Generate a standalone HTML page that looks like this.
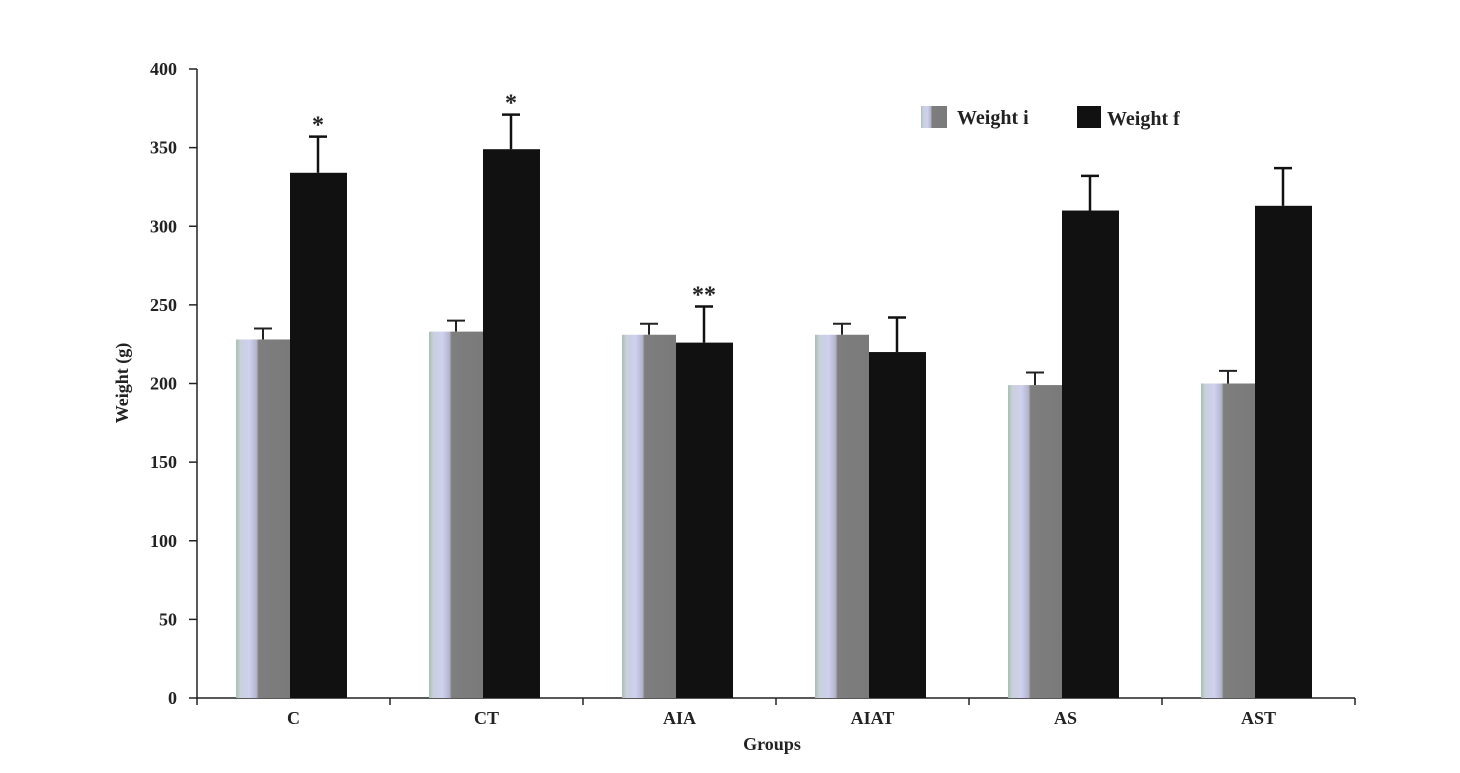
<!DOCTYPE html>
<html><head><meta charset="utf-8"><style>
body{margin:0;background:#fff;}
svg text{font-family:"Liberation Serif",serif;fill:#222;}
</style></head><body>
<svg id="chart" width="1460" height="768" xmlns="http://www.w3.org/2000/svg">
<defs>
<linearGradient id="gi" x1="0" x2="1" y1="0" y2="0">
<stop offset="0" stop-color="#a9bfae"/>
<stop offset="0.08" stop-color="#c8d0dc"/>
<stop offset="0.25" stop-color="#cfd0ee"/>
<stop offset="0.38" stop-color="#b3b4cc"/>
<stop offset="0.42" stop-color="#7e7e7e"/>
<stop offset="1" stop-color="#7a7a7a"/>
</linearGradient>
</defs>
<g id="plot"></g>
</svg>
<script>
const categories=["C","CT","AIA","AIAT","AS","AST"];
const weightI=[228,233,231,231,199,200];
const weightIErr=[7,7,7,7,8,8];
const weightF=[334,349,226,220,310,313];
const weightFErr=[23,22,23,22,22,24];
const sigLabels=["*","*","**","","",""];
const yTicks=[0,50,100,150,200,250,300,350,400];

const NS="http://www.w3.org/2000/svg";
const g=document.getElementById('plot');
const x0=197,x1=1355,yBase=698,yTop=69,yMax=400;
const gw=(x1-x0)/categories.length;
const y=v=>yBase-(v/yMax)*(yBase-yTop);
function mk(tag,attrs,parent){const e=document.createElementNS(NS,tag);for(const k in attrs)e.setAttribute(k,attrs[k]);(parent||g).appendChild(e);return e;}

// axes
let ax=mk('line',{x1:x0,y1:yTop,x2:x0,y2:yBase,stroke:'#222','stroke-width':1.5});


let axx=mk('line',{x1:x0,y1:yBase,x2:x1,y2:yBase,stroke:'#222','stroke-width':1.5});


yTicks.forEach(t=>{
  mk('line',{x1:x0-8,y1:y(t),x2:x0,y2:y(t),stroke:'#222','stroke-width':1.5});
  const tx=mk('text',{x:x0-20,y:y(t)+6,'text-anchor':'end','font-size':18,'font-weight':'bold'});
  tx.textContent=t;
  
  
});
for(let i=0;i<=categories.length;i++){
  mk('line',{x1:x0+i*gw,y1:yBase,x2:x0+i*gw,y2:yBase+7,stroke:'#222','stroke-width':1.5});
}
categories.forEach((c,i)=>{
  const gx=x0+i*gw;
  const bi=gx+39,bw=54,bf=gx+93,bfw=57;
  // error bars
  const ei=mk('g',{});
  
  
  mk('line',{x1:bi+27,y1:y(weightI[i]),x2:bi+27,y2:y(weightI[i]+weightIErr[i]),stroke:'#222','stroke-width':2},ei);
  mk('line',{x1:bi+18,y1:y(weightI[i]+weightIErr[i]),x2:bi+36,y2:y(weightI[i]+weightIErr[i]),stroke:'#222','stroke-width':2},ei);
  const r1=mk('rect',{x:bi,y:y(weightI[i]),width:bw,height:yBase-y(weightI[i]),fill:'url(#gi)'});
  
  
  const ef=mk('g',{});
  
  
  mk('line',{x1:bf+28,y1:y(weightF[i]),x2:bf+28,y2:y(weightF[i]+weightFErr[i]),stroke:'#111','stroke-width':2.5},ef);
  mk('line',{x1:bf+19,y1:y(weightF[i]+weightFErr[i]),x2:bf+37,y2:y(weightF[i]+weightFErr[i]),stroke:'#111','stroke-width':2.5},ef);
  const r2=mk('rect',{x:bf,y:y(weightF[i]),width:bfw,height:yBase-y(weightF[i]),fill:'#111'});
  
  
  if(sigLabels[i]){
    const s=mk('text',{x:bf+28,y:y(weightF[i]+weightFErr[i])-4,'text-anchor':'middle','font-size':24,'font-weight':'bold'});
    s.textContent=sigLabels[i];
    
    
  }
  const lb=mk('text',{x:gx+gw/2,y:724,'text-anchor':'middle','font-size':18,'font-weight':'bold'});
  lb.textContent=c;
  
  
});
const xt=mk('text',{x:772,y:750,'text-anchor':'middle','font-size':18,'font-weight':'bold'});
xt.textContent='Groups';


const yt=mk('text',{x:0,y:0,'text-anchor':'middle','font-size':18,'font-weight':'bold',transform:'translate(128,383) rotate(-90)'});
yt.textContent='Weight (g)';


// legend
const lg=mk('g',{});


mk('rect',{x:921,y:106,width:26,height:22,fill:'url(#gi)'},lg);
const l1=mk('text',{x:957,y:124,'font-size':20,'font-weight':'bold'},lg);
l1.textContent='Weight i';


mk('rect',{x:1077,y:106,width:24,height:22,fill:'#111'},lg);
const l2=mk('text',{x:1107,y:125,'font-size':20,'font-weight':'bold'},lg);
l2.textContent='Weight f';


</script>
</body></html>
